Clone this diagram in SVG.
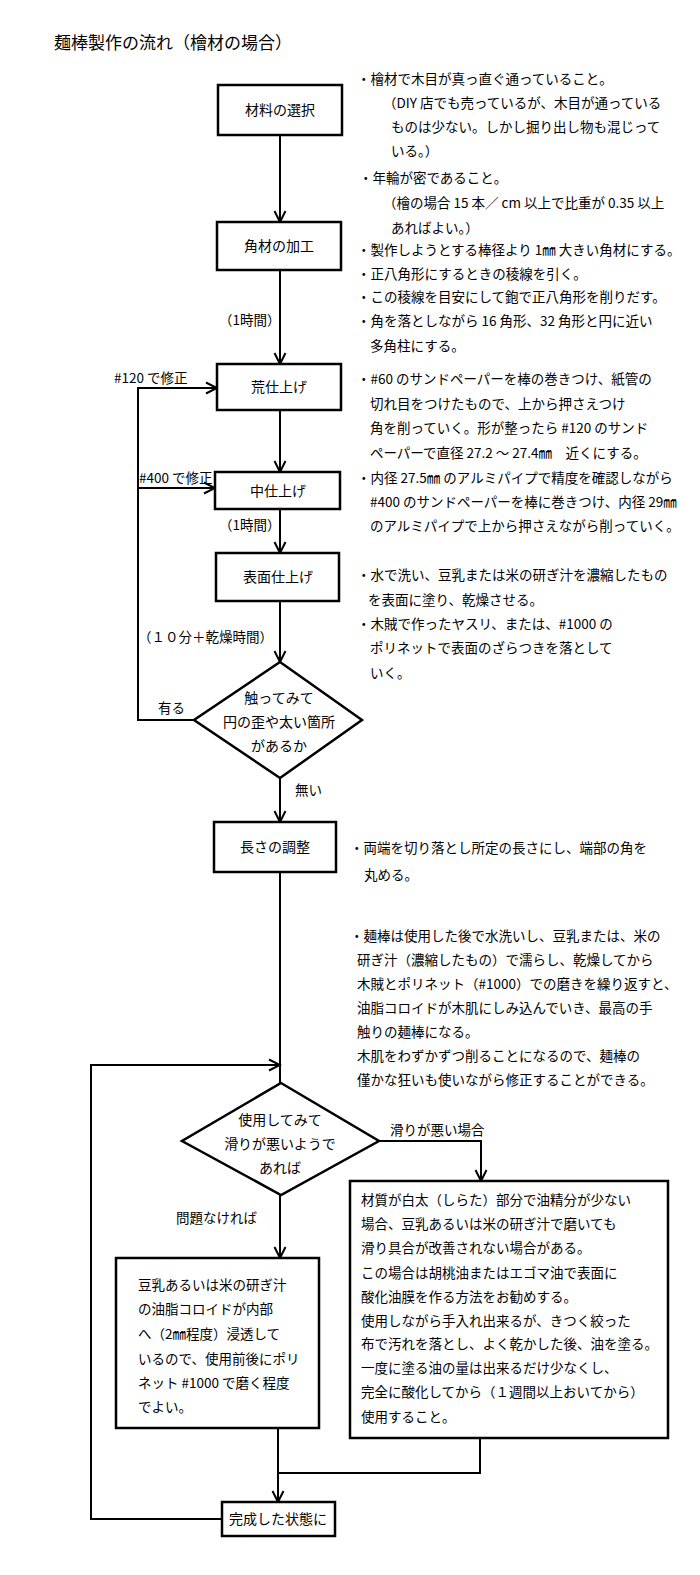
<svg xmlns="http://www.w3.org/2000/svg" width="700" height="1575" viewBox="0 0 700 1575">
<style>
text{font-family:"Noto Sans CJK JP","Noto Sans CJK SC",sans-serif;font-size:13.5px;fill:#000}
.t{font-size:17px}
.b{font-size:14px}
.c{text-anchor:middle}
.box{fill:#fff;stroke:#000;stroke-width:2.5}
.ln{fill:none;stroke:#000;stroke-width:2}
</style>
<defs>
<marker id="ah" markerWidth="14" markerHeight="14" refX="12" refY="7" orient="auto" markerUnits="userSpaceOnUse">
<path d="M1,1.5 L12,7 L1,12.5" fill="none" stroke="#000" stroke-width="2"/>
</marker>
</defs>
<rect width="700" height="1575" fill="#fff"/>
<text class="t" x="54" y="49">麺棒製作の流れ（檜材の場合）</text>

<g id="connectors">
<path class="ln" d="M280,135 V222" marker-end="url(#ah)"/>
<path class="ln" d="M280,270 V364" marker-end="url(#ah)"/>
<path class="ln" d="M280,410 V472" marker-end="url(#ah)"/>
<path class="ln" d="M280,509 V553" marker-end="url(#ah)"/>
<path class="ln" d="M280,601 V662" marker-end="url(#ah)"/>
<path class="ln" d="M194,720 H138 V388 H217" marker-end="url(#ah)"/>
<path class="ln" d="M138,488 H215" marker-end="url(#ah)"/>
<path class="ln" d="M280,778 V822" marker-end="url(#ah)"/>
<path class="ln" d="M280,872 V1083"/>
<path class="ln" d="M222,1519 H91 V1065 H280" marker-end="url(#ah)"/>
<path class="ln" d="M379,1141 H481 V1181" marker-end="url(#ah)"/>
<path class="ln" d="M280,1195 V1258" marker-end="url(#ah)"/>
<path class="ln" d="M278,1428 V1502" marker-end="url(#ah)"/>
<path class="ln" d="M480,1438 V1473 H278"/>
</g>

<g id="n1"><rect class="box" x="218" y="85" width="124" height="50"/><text class="b c" x="280" y="115">材料の選択</text></g>
<g id="n2"><rect class="box" x="217" y="222" width="124" height="48"/><text class="b c" x="279" y="251">角材の加工</text></g>
<g id="n3"><rect class="box" x="217" y="364" width="124" height="46"/><text class="b c" x="279" y="392">荒仕上げ</text></g>
<g id="n4"><rect class="box" x="215" y="472" width="125" height="37"/><text class="b c" x="278" y="496">中仕上げ</text></g>
<g id="n5"><rect class="box" x="216" y="553" width="123" height="48"/><text class="b c" x="278" y="582">表面仕上げ</text></g>
<g id="d1"><polygon class="box" points="280,662 362,720 280,778 194,720"/>
<text class="b c" x="279" y="703">触ってみて</text><text class="b c" x="279" y="727">円の歪や太い箇所</text><text class="b c" x="279" y="751">があるか</text></g>
<g id="n6"><rect class="box" x="214" y="822" width="122" height="50"/><text class="b c" x="275" y="852">長さの調整</text></g>
<g id="d2"><polygon class="box" points="281,1083 379,1141 281,1195 182,1141"/>
<text class="b c" x="280" y="1125">使用してみて</text><text class="b c" x="280" y="1149">滑りが悪いようで</text><text class="b c" x="280" y="1173">あれば</text></g>
<g id="n7"><rect class="box" x="116" y="1258" width="203" height="170"/>
<text x="138" y="1290">豆乳あるいは米の研ぎ汁</text>
<text x="138" y="1314">の油脂コロイドが内部</text>
<text x="138" y="1339">へ（2㎜程度）浸透して</text>
<text x="138" y="1364">いるので、使用前後にポリ</text>
<text x="138" y="1388">ネット #1000 で磨く程度</text>
<text x="138" y="1412">でよい。</text></g>
<g id="n8"><rect class="box" x="350" y="1181" width="318" height="257"/>
<text x="361" y="1205">材質が白太（しらた）部分で油精分が少ない</text>
<text x="361" y="1229">場合、豆乳あるいは米の研ぎ汁で磨いても</text>
<text x="361" y="1253">滑り具合が改善されない場合がある。</text>
<text x="361" y="1278">この場合は胡桃油またはエゴマ油で表面に</text>
<text x="361" y="1302">酸化油膜を作る方法をお勧めする。</text>
<text x="361" y="1326">使用しながら手入れ出来るが、きつく絞った</text>
<text x="361" y="1349">布で汚れを落とし、よく乾かした後、油を塗る。</text>
<text x="361" y="1373">一度に塗る油の量は出来るだけ少なくし、</text>
<text x="361" y="1397">完全に酸化してから（１週間以上おいてから）</text>
<text x="361" y="1422">使用すること。</text></g>
<g id="n9"><rect class="box" x="222" y="1502" width="113" height="34"/><text class="b" x="229" y="1524">完成した状態に</text></g>

<g id="labels">
<text x="219" y="325">（1時間）</text>
<text x="114" y="383">#120 で修正</text>
<text x="139" y="483">#400 で修正</text>
<text x="219" y="530">（1時間）</text>
<text x="138" y="642">（１０分＋乾燥時間）</text>
<text x="158" y="713">有る</text>
<text x="295" y="795">無い</text>
<text x="390" y="1135">滑りが悪い場合</text>
<text x="176" y="1223">問題なければ</text>
</g>

<g id="notes">
<text x="357" y="84">・檜材で木目が真っ直ぐ通っていること。</text>
<text x="383" y="108">（DIY 店でも売っているが、木目が通っている</text>
<text x="391" y="132">ものは少ない。しかし掘り出し物も混じって</text>
<text x="391" y="156">いる。）</text>
<text x="359" y="183">・年輪が密であること。</text>
<text x="383" y="208">（檜の場合 15 本／ cm 以上で比重が 0.35 以上</text>
<text x="391" y="233">あればよい。）</text>
<text x="357" y="255">・製作しようとする棒径より 1㎜ 大きい角材にする。</text>
<text x="357" y="279">・正八角形にするときの稜線を引く。</text>
<text x="357" y="302">・この稜線を目安にして鉋で正八角形を削りだす。</text>
<text x="357" y="326">・角を落としながら 16 角形、32 角形と円に近い</text>
<text x="370" y="351">多角柱にする。</text>
<text x="357" y="384">・#60 のサンドペーパーを棒の巻きつけ、紙管の</text>
<text x="370" y="409">切れ目をつけたもので、上から押さえつけ</text>
<text x="370" y="433">角を削っていく。形が整ったら #120 のサンド</text>
<text x="370" y="458">ペーパーで直径 27.2 ～ 27.4㎜　近くにする。</text>
<text x="357" y="483">・内径 27.5㎜ のアルミパイプで精度を確認しながら</text>
<text x="370" y="507">#400 のサンドペーパーを棒に巻きつけ、内径 29㎜</text>
<text x="370" y="531">のアルミパイプで上から押さえながら削っていく。</text>
<text x="357" y="580">・水で洗い、豆乳または米の研ぎ汁を濃縮したもの</text>
<text x="368" y="605">を表面に塗り、乾燥させる。</text>
<text x="357" y="629">・木賊で作ったヤスリ、または、#1000 の</text>
<text x="370" y="653">ポリネットで表面のざらつきを落として</text>
<text x="370" y="678">いく。</text>
<text x="350" y="853">・両端を切り落とし所定の長さにし、端部の角を</text>
<text x="364" y="880">丸める。</text>
<text x="350" y="941">・麺棒は使用した後で水洗いし、豆乳または、米の</text>
<text x="357" y="965">研ぎ汁（濃縮したもの）で濡らし、乾燥してから</text>
<text x="357" y="989">木賊とポリネット（#1000）での磨きを繰り返すと、</text>
<text x="357" y="1013">油脂コロイドが木肌にしみ込んでいき、最高の手</text>
<text x="357" y="1037">触りの麺棒になる。</text>
<text x="357" y="1061">木肌をわずかずつ削ることになるので、麺棒の</text>
<text x="357" y="1085">僅かな狂いも使いながら修正することができる。</text>
</g>
</svg>
